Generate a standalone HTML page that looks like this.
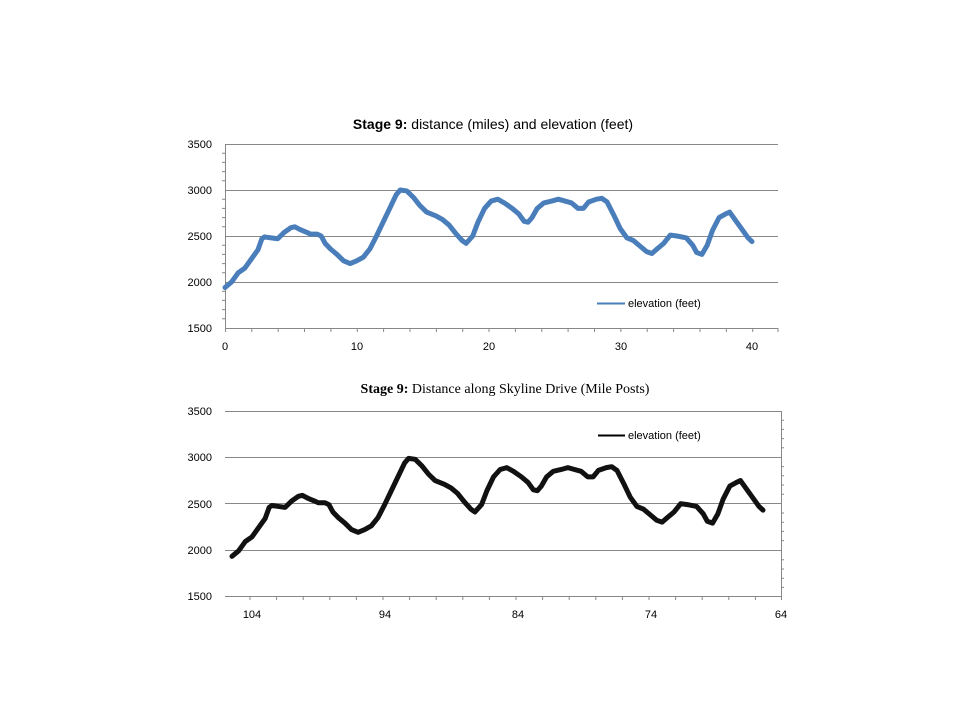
<!DOCTYPE html>
<html><head><style>
body{margin:0;background:#fff;}
svg text{font-family:"Liberation Sans",sans-serif;font-size:11px;fill:#000;}
</style></head><body>
<svg width="960" height="720" viewBox="0 0 960 720" xmlns="http://www.w3.org/2000/svg">
<!-- top chart -->
<text x="493" y="129" text-anchor="middle" style="font-size:14px"><tspan font-weight="bold">Stage 9:</tspan> distance (miles) and elevation (feet)</text>
<g stroke="#888" stroke-width="1">
<line x1="225" y1="144.5" x2="778" y2="144.5"/><line x1="225" y1="190.5" x2="778" y2="190.5"/><line x1="225" y1="236.5" x2="778" y2="236.5"/><line x1="225" y1="282.5" x2="778" y2="282.5"/><line x1="225" y1="328.5" x2="778" y2="328.5"/>
<line x1="225.5" y1="144" x2="225.5" y2="332"/>
</g>
<g stroke="#888" stroke-width="1">
<path d="M251.8 328v4M278.2 328v4M304.5 328v4M330.9 328v4M357.3 328v4M383.6 328v4M410 328v4M436.4 328v4M462.7 328v4M489 328v4M515.4 328v4M541.8 328v4M568.1 328v4M594.5 328v4M620.9 328v4M647.2 328v4M673.6 328v4M700 328v4M726.3 328v4M752.7 328v4M778 328v4"/>
<path d="M222 153.2h3M222 162.4h3M222 171.6h3M222 180.8h3M222 199.2h3M222 208.4h3M222 217.6h3M222 226.8h3M222 245.2h3M222 254.4h3M222 263.6h3M222 272.8h3M222 291.2h3M222 300.4h3M222 309.6h3M222 318.8h3"/>
</g>
<g text-anchor="end"><text x="212" y="148">3500</text><text x="212" y="194">3000</text><text x="212" y="240">2500</text><text x="212" y="286">2000</text><text x="212" y="332">1500</text></g>
<g text-anchor="middle"><text x="225" y="350">0</text><text x="357" y="350">10</text><text x="489" y="350">20</text><text x="621" y="350">30</text><text x="752" y="350">40</text></g>
<g transform="translate(225,328) scale(13.175,-0.092) translate(0,-1500)">
<polyline fill="none" stroke="#4a7ebb" stroke-width="5" vector-effect="non-scaling-stroke" stroke-linejoin="round" stroke-linecap="round" points="0,1940 0.5,2000 1,2100 1.5,2150 2,2250 2.5,2350 2.8,2470 3,2490 3.5,2480 4,2470 4.5,2540 5,2590 5.3,2600 5.7,2570 6.2,2540 6.5,2520 7,2520 7.3,2500 7.6,2420 8,2360 8.5,2300 9,2230 9.5,2200 10,2230 10.5,2270 11,2360 11.5,2500 12,2650 12.5,2800 13,2950 13.3,3000 13.8,2990 14.3,2920 14.8,2830 15.3,2760 16,2720 16.5,2680 17,2620 17.5,2530 18,2450 18.3,2420 18.8,2500 19.2,2650 19.7,2800 20.2,2880 20.7,2900 21.2,2860 21.8,2800 22.3,2740 22.7,2660 23,2650 23.3,2700 23.7,2800 24.2,2860 24.8,2880 25.3,2900 25.8,2880 26.3,2860 26.8,2800 27.2,2800 27.6,2870 28.2,2900 28.6,2910 29,2870 29.5,2730 30,2580 30.5,2480 31,2450 31.5,2390 32,2330 32.4,2310 32.8,2360 33.3,2420 33.8,2510 34.3,2500 35,2480 35.5,2400 35.8,2320 36.2,2300 36.6,2400 37,2560 37.5,2700 38,2740 38.3,2760 38.8,2660 39.3,2560 39.7,2480 40,2440"/>
</g>
<line x1="597" y1="303.5" x2="625" y2="303.5" stroke="#4a7ebb" stroke-width="2"/>
<text x="628" y="307">elevation (feet)</text>
<!-- bottom chart -->
<text x="505" y="393" text-anchor="middle" style="font-family:'Liberation Serif',serif;font-size:14px"><tspan font-weight="bold">Stage 9:</tspan> Distance  along  Skyline  Drive  (Mile  Posts)</text>
<g stroke="#888" stroke-width="1">
<line x1="225" y1="411.5" x2="781" y2="411.5"/><line x1="225" y1="457.5" x2="781" y2="457.5"/><line x1="225" y1="503.5" x2="781" y2="503.5"/><line x1="225" y1="550.5" x2="781" y2="550.5"/><line x1="225" y1="596.5" x2="781" y2="596.5"/>
<line x1="781.5" y1="411" x2="781.5" y2="600"/>
<path d="M250 596v4M276.6 596v4M303.2 596v4M329.8 596v4M356.4 596v4M383 596v4M409.6 596v4M436.2 596v4M462.8 596v4M489.4 596v4M516 596v4M542.6 596v4M569.2 596v4M595.8 596v4M622.4 596v4M649 596v4M675.6 596v4M702.2 596v4M728.8 596v4M755.4 596v4"/>
<path d="M781 420.2h3M781 429.4h3M781 438.6h3M781 447.8h3M781 466.6h3M781 475.8h3M781 485h3M781 494.2h3M781 513h3M781 522.2h3M781 531.4h3M781 540.6h3M781 559.8h3M781 569h3M781 578.2h3M781 587.4h3"/>
</g>
<g text-anchor="end"><text x="212" y="415">3500</text><text x="212" y="461">3000</text><text x="212" y="508">2500</text><text x="212" y="554">2000</text><text x="212" y="600">1500</text></g>
<g text-anchor="middle"><text x="252" y="618">104</text><text x="385" y="618">94</text><text x="518" y="618">84</text><text x="651" y="618">74</text><text x="781" y="618">64</text></g>
<g transform="translate(232,597) scale(13.275,-0.0924) translate(0,-1500)">
<polyline fill="none" stroke="#111" stroke-width="5" vector-effect="non-scaling-stroke" stroke-linejoin="round" stroke-linecap="round" points="0,1940 0.5,2000 1,2100 1.5,2150 2,2250 2.5,2350 2.8,2470 3,2490 3.5,2480 4,2470 4.5,2540 5,2590 5.3,2600 5.7,2570 6.2,2540 6.5,2520 7,2520 7.3,2500 7.6,2420 8,2360 8.5,2300 9,2230 9.5,2200 10,2230 10.5,2270 11,2360 11.5,2500 12,2650 12.5,2800 13,2950 13.3,3000 13.8,2990 14.3,2920 14.8,2830 15.3,2760 16,2720 16.5,2680 17,2620 17.5,2530 18,2450 18.3,2420 18.8,2500 19.2,2650 19.7,2800 20.2,2880 20.7,2900 21.2,2860 21.8,2800 22.3,2740 22.7,2660 23,2650 23.3,2700 23.7,2800 24.2,2860 24.8,2880 25.3,2900 25.8,2880 26.3,2860 26.8,2800 27.2,2800 27.6,2870 28.2,2900 28.6,2910 29,2870 29.5,2730 30,2580 30.5,2480 31,2450 31.5,2390 32,2330 32.4,2310 32.8,2360 33.3,2420 33.8,2510 34.3,2500 35,2480 35.5,2400 35.8,2320 36.2,2300 36.6,2400 37,2560 37.5,2700 38,2740 38.3,2760 38.8,2660 39.3,2560 39.7,2480 40,2440"/>
</g>
<line x1="598" y1="435.5" x2="625" y2="435.5" stroke="#000" stroke-width="2"/>
<text x="628" y="439">elevation (feet)</text>
</svg>
</body></html>
